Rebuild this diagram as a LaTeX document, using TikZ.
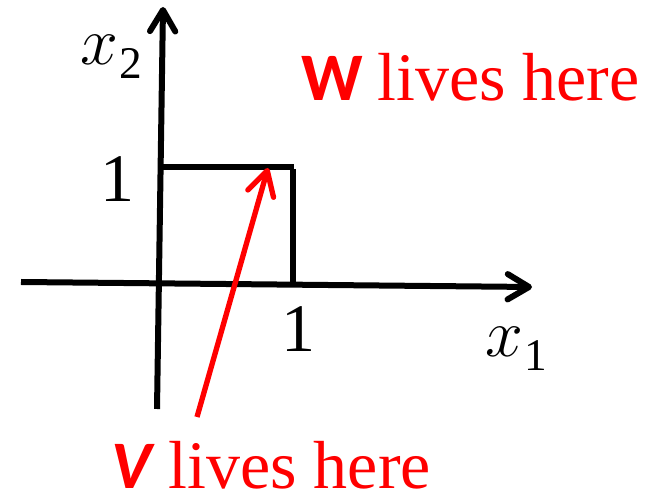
\RequirePackage{fix-cm}
\documentclass[tikz,border=0pt]{standalone}
\usepackage{fontspec}
\setmainfont{Liberation Serif}
\newfontfamily\carl{Carlito}
\usetikzlibrary{arrows.meta}
\newcommand{\subdigit}[1]{\raisebox{-10pt}{\fontsize{34}{40}\selectfont #1}}
\tikzset{
  axis/.style={line width=4.5pt, -{Straight Barb[length=16pt,width=19pt,round]}},
  boxline/.style={line width=4pt},
  vecarrow/.style={red, line width=4pt, -{Straight Barb[length=18pt,width=20pt,round]}},
  lbl/.style={inner sep=0pt, text depth=0pt, font=\fontsize{51}{58}\selectfont},
  redlbl/.style={lbl, text=red},
}
\begin{document}
\begin{tikzpicture}[x=0.75pt,y=-0.75pt]
\useasboundingbox (0,0) rectangle (654,498);
% axes end points
\coordinate (hL) at (21,282);
\coordinate (hR) at (532,287);
\coordinate (vB) at (157,409);
\coordinate (vT) at (163,7);
% box corners
\coordinate (bTL) at (158,167);
\coordinate (bTR) at (294,167);
\coordinate (bRT) at (293,169);
\coordinate (bRB) at (293,284);
% red vector
\coordinate (rB) at (197,417);
\coordinate (rT) at (268,168);

\draw[axis] (hL) -- (hR);
\draw[axis] (vB) -- (vT);
\draw[boxline] (bTL) -- (bTR);
\draw[boxline] (bRT) -- (bRB);
\draw[vecarrow] (rB) -- (rT);

\node[lbl, anchor=base west] (x2) at (80,65) {$x$\kern1pt\subdigit{2}};
\node[lbl, anchor=base west] (one2) at (100,202) {1};
\node[lbl, anchor=base west] (one1) at (281,352) {1};
\node[lbl, anchor=base west] (x1) at (485,357) {$x$\kern1pt\subdigit{1}};
\node[redlbl, anchor=base west] (W) at (301,101) {{\carl\bfseries W}\kern-2pt{} lives here};
\node[redlbl, anchor=base west] (V) at (111,489) {{\carl\bfseries\itshape V} lives here};
\end{tikzpicture}
\end{document}
